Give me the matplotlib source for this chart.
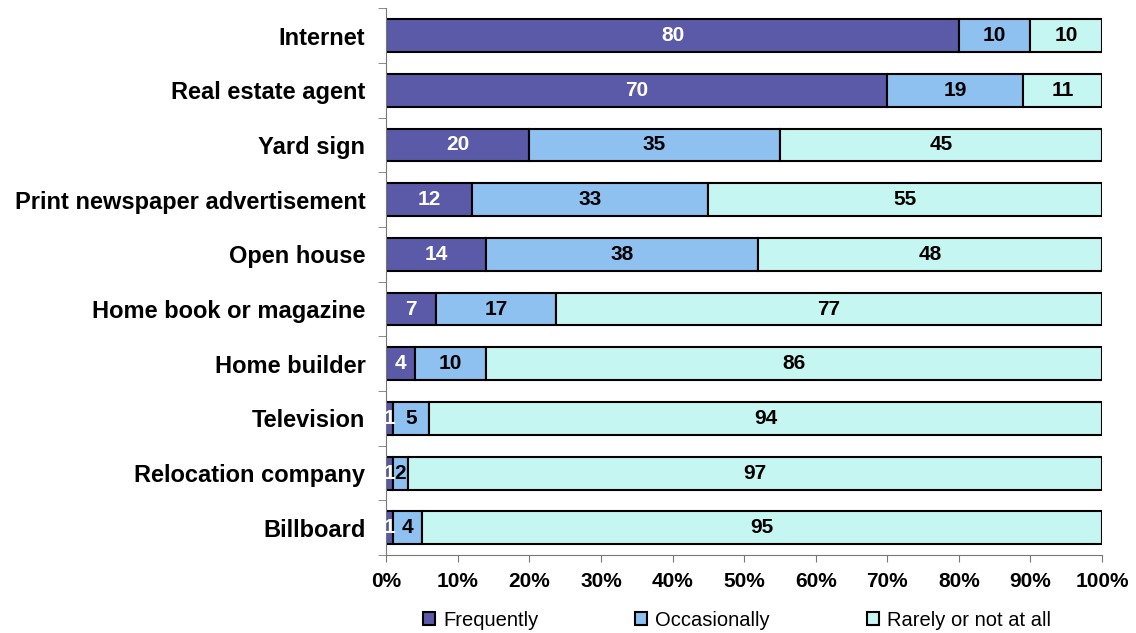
import numpy as np
import matplotlib
matplotlib.use('Agg')
import matplotlib.pyplot as plt

plt.rcParams['font.family'] = ['Liberation Sans', 'DejaVu Sans']

# data, top to bottom
sources = ['Internet', 'Real estate agent', 'Yard sign', 'Print newspaper advertisement',
           'Open house', 'Home book or magazine', 'Home builder', 'Television',
           'Relocation company', 'Billboard']
frequently = [80, 70, 20, 12, 14, 7, 4, 1, 1, 1]
occasionally = [10, 19, 35, 33, 38, 17, 10, 5, 2, 4]
rarely = [10, 11, 45, 55, 48, 77, 86, 94, 97, 95]
series_names = ['Frequently', 'Occasionally', 'Rarely or not at all']

colors = ['#5b5aa8', '#8ec0f0', '#c6f6f1']
txtcol = ['white', 'black', 'black']

vals = np.array([frequently, occasionally, rarely], dtype=float)
pct = vals / vals.sum(axis=0) * 100

fig = plt.figure(figsize=(11.36, 6.33), dpi=100)
ax = fig.add_axes([0.340, 0.123, 0.630, 0.864])

y = np.arange(len(sources))
left = np.zeros(len(sources))
for i in range(3):
    bars = ax.barh(y, pct[i], left=left, height=0.6, color=colors[i],
                   edgecolor='black', linewidth=1.5, label=series_names[i])
    for j, b in enumerate(bars):
        ax.text(left[j] + pct[i][j] / 2, y[j], str(int(vals[i][j])), ha='center', va='center',
                color=txtcol[i], fontsize=15, fontweight='bold')
    left += pct[i]

ax.set_xlim(0, 100)
ax.set_ylim(len(sources) - 0.5, -0.5)
ax.set_xticks(np.arange(0, 101, 10))
ax.set_xticklabels([f'{v}%' for v in range(0, 101, 10)], fontsize=15, fontweight='bold')
ax.set_yticks(y)
ax.set_yticklabels(sources, fontsize=17, fontweight='bold')
ax.set_yticks(np.arange(-0.5, len(sources), 1), minor=True)
ax.tick_params(axis='y', which='major', length=0, pad=15)
ax.tick_params(axis='y', which='minor', length=6, direction='out', color='#777777')
ax.tick_params(axis='x', length=5, color='#777777', pad=7)
for s in ['top', 'right']:
    ax.spines[s].set_visible(False)
ax.spines['left'].set_color('#777777')
ax.spines['bottom'].set_color('#777777')

ax.legend(loc='upper center', bbox_to_anchor=(0.49, -0.08), ncol=3, frameon=False,
          fontsize=14.5, handlelength=0.6, handleheight=0.6, columnspacing=4.8,
          handletextpad=0.4, borderpad=0.1)

fig.savefig('out.png', dpi=100)
